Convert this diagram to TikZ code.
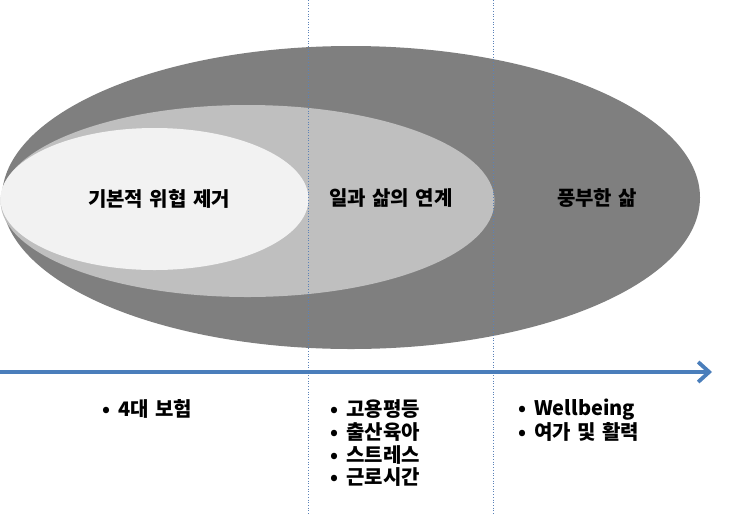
\documentclass[tikz,border=0pt]{standalone}
\usepackage{fontspec}
\setmainfont{Noto Sans CJK KR}[WordSpace=1.4]
\usetikzlibrary{arrows.meta}
\definecolor{outerc}{HTML}{7F7F7F}
\definecolor{midc}{HTML}{BFBFBF}
\definecolor{innerc}{HTML}{F2F2F2}
\definecolor{axisc}{HTML}{4A7EBB}
\definecolor{guidec}{HTML}{5B82B8}
\begin{document}
\begin{tikzpicture}[x=1pt,y=-1pt,
  lbl/.style={font=\fontsize{20}{22}\selectfont\bfseries, inner sep=0pt},
  item/.style={font=\fontsize{20}{22}\selectfont\bfseries, inner sep=0pt, anchor=west},
  guide/.style={draw=guidec, line width=0.7pt, dotted},
  axis/.style={draw=axisc, line width=3.8pt, -{Straight Barb[length=11pt,width=20pt]}}]
\useasboundingbox (0,0) rectangle (730,515);
\fill[outerc] (351,197.5) ellipse [x radius=349, y radius=151.5];
\fill[midc] (247.5,201) ellipse [x radius=247, y radius=96];
\fill[innerc] (154.5,199) ellipse [x radius=154, y radius=71];
\coordinate (g1t) at (308.5,0); \coordinate (g1b) at (308.5,515);
\coordinate (g2t) at (493.5,0); \coordinate (g2b) at (493.5,515);
\draw[guide] (g1t) -- (g1b);
\draw[guide] (g2t) -- (g2b);
\coordinate (a0) at (0,372); \coordinate (a1) at (712,372);
\draw[axis] (a0) -- (a1);
\node[lbl] (t1) at (159,199) {기본적 위협 제거};
\node[lbl] (t2) at (391,198) {일과 삶의 연계};
\node[lbl] (t3) at (597,198) {풍부한 삶};
\node[item] (b1) at (102,409) {•\hspace{8pt}4대 보험};
\node[item] (m1) at (330,409.5) {•\hspace{8pt}고용평등};
\node[item] (m2) at (330,432) {•\hspace{8pt}출산육아};
\node[item] (m3) at (330,454.5) {•\hspace{8pt}스트레스};
\node[item] (m4) at (330,477) {•\hspace{8pt}근로시간};
\node[item] (r1) at (518,409.5) {•\hspace{8pt}Wellbeing};
\node[item] (r2) at (518,432) {•\hspace{8pt}여가 및 활력};
\end{tikzpicture}
\end{document}
